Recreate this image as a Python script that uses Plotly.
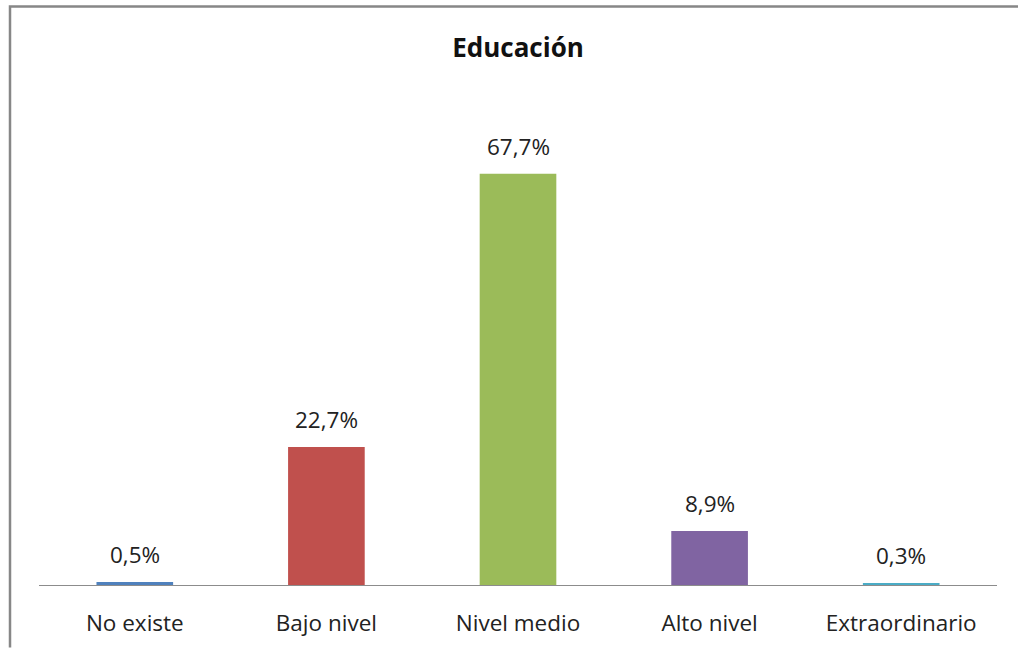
import plotly.graph_objects as go

categories = ["No existe", "Bajo nivel", "Nivel medio", "Alto nivel", "Extraordinario"]
values = [0.5, 22.7, 67.7, 8.9, 0.3]
colors = ["#4F81BD", "#C0504D", "#9BBB59", "#8064A2", "#4BACC6"]

W, H = 1018, 650
L, R, T, B = 39, 21, 99, 62
pw, ph = W - L - R, H - T - B
FONT = "'Open Sans', Lato, sans-serif"

def px_x(x):
    return (x - L) / pw

def px_y(y):
    return (H - B - y) / ph

fig = go.Figure(go.Bar(
    x=categories, y=values, marker_color=colors, width=0.4,
    marker_line_width=0,
))

for c, v in zip(categories, values):
    fig.add_annotation(x=c, y=v, xref="x", yref="y", text=f"{v:.1f}%".replace(".", ","),
                       showarrow=False, yanchor="bottom", yshift=10,
                       font=dict(size=22.5, color="#222222", family=FONT))

fig.update_layout(
    width=W, height=H, margin=dict(l=L, r=R, t=T, b=B),
    paper_bgcolor="white", plot_bgcolor="white",
    separators=",.",
    font=dict(family=FONT, color="#222222"),
    title=dict(text="<b>Educación</b>", xref="paper", x=0.5, xanchor="center", y=1 - 48 / H,
               yanchor="middle", font=dict(size=26, color="#111111", family=FONT)),
    showlegend=False,
    xaxis=dict(showline=True, linecolor="#8C8C8C", linewidth=1, ticks="",
               ticklabelstandoff=18,
               tickfont=dict(size=22.5, color="#222222", family=FONT), showgrid=False),
    yaxis=dict(range=[0, 80], visible=False, showgrid=False),
    shapes=[dict(type="path", xref="paper", yref="paper",
                 path=f"M {px_x(10)} {px_y(651)} L {px_x(10)} {px_y(6)} L {px_x(1020)} {px_y(6)}",
                 line=dict(color="#878787", width=2.5))],
)

fig.write_html("out.html")
